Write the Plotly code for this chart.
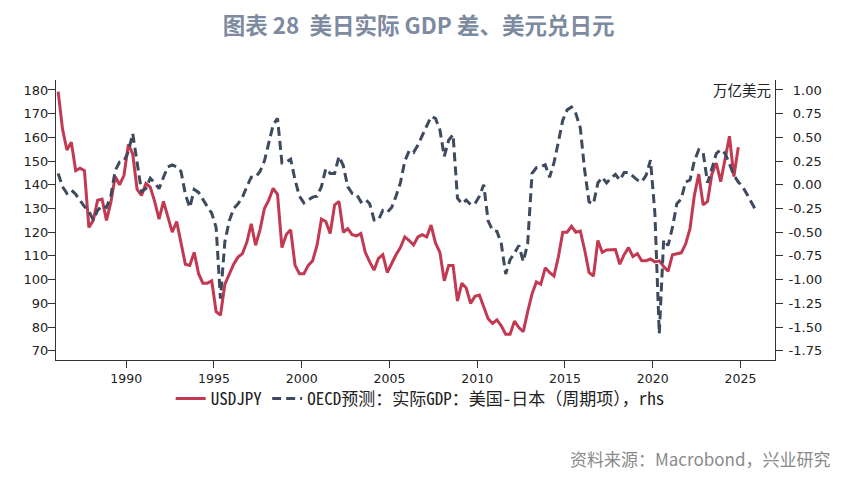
import pandas as pd
import plotly.graph_objects as go

# ---------------- data (quarterly) ----------------
usdjpy_start = "1986Q1"
usdjpy = [
    179.3, 163.5, 154.7, 158.0,   # 1986
    146.0, 147.0, 146.0, 122.0,   # 1987
    125.0, 133.5, 134.0, 125.0,   # 1988
    132.5, 143.5, 140.0, 144.0,   # 1989
    157.0, 153.0, 138.0, 135.5,   # 1990
    140.5, 139.0, 133.0, 125.5,   # 1991
    133.0, 126.0, 120.0, 124.5,   # 1992
    115.0, 106.5, 106.0, 111.5,   # 1993
    102.5, 98.5, 98.5, 99.5,      # 1994
    86.5, 85.0, 98.0, 102.5,      # 1995
    106.5, 109.5, 111.0, 115.8,   # 1996
    123.5, 114.5, 121.0, 130.0,   # 1997
    133.5, 138.5, 136.0, 113.5,   # 1998
    119.0, 121.0, 106.0, 102.5,   # 1999
    102.5, 106.0, 108.0, 114.5,   # 2000
    125.5, 124.5, 119.5, 131.5,   # 2001
    133.0, 120.0, 121.5, 119.0,   # 2002
    118.5, 119.5, 111.5, 107.5,   # 2003
    104.0, 109.0, 110.5, 103.0,   # 2004
    107.0, 110.5, 113.5, 118.0,   # 2005
    116.5, 114.6, 118.0, 119.0,   # 2006
    118.0, 123.0, 115.5, 111.5,   # 2007
    99.5, 106.0, 106.0, 91.0,     # 2008
    98.5, 96.5, 90.0, 93.0,       # 2009
    93.5, 88.5, 83.5, 81.5,       # 2010
    83.0, 80.5, 77.0, 77.0,       # 2011
    82.5, 79.8, 78.0, 86.5,       # 2012
    94.0, 99.0, 98.0, 105.0,      # 2013
    103.0, 101.5, 109.5, 120.0,   # 2014
    120.0, 122.5, 120.0, 120.5,   # 2015
    112.5, 103.0, 101.5, 116.5,   # 2016
    111.5, 112.5, 112.5, 112.7,   # 2017
    106.5, 110.5, 113.5, 109.7,   # 2018
    111.0, 108.0, 108.0, 108.7,   # 2019
    107.5, 107.9, 105.5, 103.5,   # 2020
    110.5, 111.0, 111.3, 115.0,   # 2021
    121.5, 135.5, 144.5, 131.5,   # 2022
    133.0, 144.5, 149.2, 141.3,   # 2023
    151.3, 160.5, 143.5, 155.8,   # 2024
]

gdp_start = "1986Q1"
gdp_gap = [
    0.12, -0.02, -0.09, -0.055,   # 1986
    -0.10, -0.17, -0.23, -0.28,   # 1987
    -0.37, -0.27, -0.22, -0.24,   # 1988
    -0.12, 0.15, 0.24, 0.25,      # 1989
    0.35, 0.54, 0.25, -0.07,      # 1990
    -0.04, 0.07, 0.02, -0.04,     # 1991
    0.08, 0.19, 0.21, 0.19,       # 1992
    0.14, -0.10, -0.24, -0.05,    # 1993
    -0.08, -0.16, -0.23, -0.30,   # 1994
    -0.45, -1.20, -0.60, -0.38,   # 1995
    -0.25, -0.20, -0.13, -0.02,   # 1996
    0.08, 0.08, 0.14, 0.25,       # 1997
    0.45, 0.63, 0.70, 0.23,       # 1998
    0.24, 0.27, 0.05, -0.12,      # 1999
    -0.19, -0.16, -0.13, -0.12,   # 2000
    -0.02, 0.17, 0.12, 0.12,      # 2001
    0.30, 0.20, -0.02, -0.09,     # 2002
    -0.10, -0.18, -0.15, -0.20,   # 2003
    -0.37, -0.37, -0.27, -0.29,   # 2004
    -0.24, -0.12, 0.02, 0.25,     # 2005
    0.36, 0.34, 0.42, 0.52,       # 2006
    0.62, 0.72, 0.70, 0.58,       # 2007
    0.30, 0.47, 0.53, -0.14,      # 2008
    -0.20, -0.16, -0.21, -0.20,   # 2009
    -0.12, 0.00, -0.38, -0.48,    # 2010
    -0.49, -0.62, -0.94, -0.79,   # 2011
    -0.72, -0.64, -0.81, -0.62,   # 2012
    0.12, 0.18, 0.19, 0.21,       # 2013
    0.08, 0.23, 0.45, 0.68,       # 2014
    0.79, 0.82, 0.75, 0.60,       # 2015
    0.15, -0.18, -0.20, 0.02,     # 2016
    0.08, 0.02, 0.07, 0.11,       # 2017
    0.05, 0.13, 0.13, 0.09,       # 2018
    0.05, 0.03, 0.10, 0.26,       # 2019
    -0.30, -1.57, -0.58, -0.64,   # 2020
    -0.45, -0.20, -0.15, 0.03,    # 2021
    0.05, 0.25, 0.37, 0.34,       # 2022
    0.02, 0.17, 0.33, 0.37,       # 2023
    0.33, 0.22, 0.10, 0.03,       # 2024
    -0.02, -0.10, -0.19, -0.27,   # 2025
]

left_ticks = [70, 80, 90, 100, 110, 120, 130, 140, 150, 160, 170, 180]
right_ticks = [-1.75, -1.5, -1.25, -1.0, -0.75, -0.5, -0.25, 0.0, 0.25, 0.5, 0.75, 1.0]
year_ticks = [1990, 1995, 2000, 2005, 2010, 2015, 2020, 2025]

title_text = "图表 28  美日实际 GDP 差、美元兑日元"
name_fx = "USDJPY"
name_gdp = "OECD预测：实际GDP：美国-日本（周期项），rhs"
unit_text = "万亿美元"
source_text = "资料来源：Macrobond，兴业研究"


def quarter_mid(start, n):
    per = pd.period_range(start, periods=n, freq="Q")
    return [p.start_time + (p.end_time - p.start_time) / 2 for p in per]


def right_label(v):
    # pad positive labels so the column reads right-aligned like the original
    s = f"{v:.2f}"
    return s if v < 0 else "\u2008" + s


x_fx = quarter_mid(usdjpy_start, len(usdjpy))
x_gdp = quarter_mid(gdp_start, len(gdp_gap))

RED = "#c23a52"
NAVY = "#3e4a5e"

fig = go.Figure()
fig.add_trace(go.Scatter(x=x_fx, y=usdjpy, name=name_fx, mode="lines",
                         line=dict(color=RED, width=3)))
fig.add_trace(go.Scatter(x=x_gdp, y=gdp_gap, name=name_gdp, mode="lines", yaxis="y2",
                         line=dict(color=NAVY, width=3, dash="9px,5px")))

tick_font = dict(family="DejaVu Sans", size=13, color="#222222")
xtick_font = dict(family="DejaVu Sans", size=12.5, color="#222222")
left_range = [66.1, 184.2]
right_range = [(v - 140) / 40 for v in left_range]

# the page body adds an 8px offset, so the figure is 8px smaller than the window
fig.update_layout(
    width=843, height=469,
    margin=dict(l=48, r=76, t=72, b=117),
    paper_bgcolor="white", plot_bgcolor="white",
    title=dict(text=title_text, x=0.487, xanchor="center", y=0.9605, yanchor="middle",
               font=dict(family="Noto Sans CJK SC", size=22.5, color="#7d8a9f", weight="bold")),
    xaxis=dict(range=["1986-01-01", "2026-12-20"], showgrid=False, zeroline=False,
               showline=True, linecolor="#333333", linewidth=1,
               ticks="outside", ticklen=7, tickcolor="#333333",
               tickvals=[f"{y}-01-01" for y in year_ticks],
               ticktext=[str(y) for y in year_ticks], tickfont=xtick_font),
    yaxis=dict(range=left_range, showgrid=False, zeroline=False,
               showline=True, linecolor="#333333", linewidth=1,
               ticks="outside", ticklen=7, tickcolor="#333333",
               tickvals=left_ticks, tickfont=tick_font, ticklabelstandoff=-3),
    yaxis2=dict(range=right_range, overlaying="y", side="right", showgrid=False,
                zeroline=False, showline=True, linecolor="#333333", linewidth=1,
                ticks="outside", ticklen=7, tickcolor="#333333",
                tickvals=right_ticks, ticktext=[right_label(v) for v in right_ticks],
                tickfont=tick_font, ticklabelstandoff=3),
    legend=dict(orientation="h", x=0.5065, xanchor="center", y=-0.139, yanchor="middle",
                font=dict(family="Noto Sans Mono CJK SC, Noto Sans CJK SC", size=17,
                          color="#222222"),
                itemwidth=30, bgcolor="rgba(0,0,0,0)"),
    showlegend=True,
)

fig.add_annotation(text=unit_text, xref="paper", yref="paper", x=0.997, y=0.965,
                   xanchor="right", yanchor="middle", showarrow=False,
                   font=dict(family="Noto Sans CJK SC", size=14.5, color="#222222"))
fig.add_annotation(text=source_text, xref="paper", yref="paper", x=1.0793, y=-0.35,
                   xanchor="right", yanchor="middle", showarrow=False,
                   font=dict(family="Noto Sans CJK SC", size=17, color="#8a8a8a"))

fig.write_html("out.html")
